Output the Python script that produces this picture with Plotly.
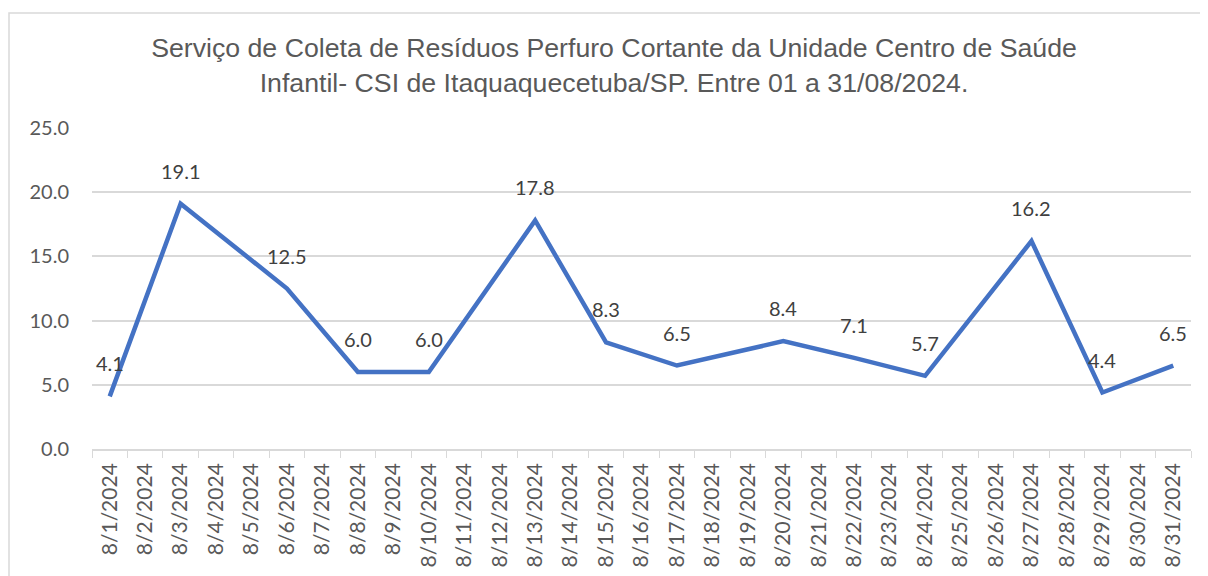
import plotly.graph_objects as go

# ---- data ----
all_dates = [f"8/{d}/2024" for d in range(1, 32)]
dates = ["8/1/2024", "8/3/2024", "8/6/2024", "8/8/2024", "8/10/2024", "8/13/2024",
         "8/15/2024", "8/17/2024", "8/20/2024", "8/22/2024", "8/24/2024", "8/27/2024",
         "8/29/2024", "8/31/2024"]
values = [4.1, 19.1, 12.5, 6.0, 6.0, 17.8, 8.3, 6.5, 8.4, 7.1, 5.7, 16.2, 4.4, 6.5]
y_ticks = [0, 5, 10, 15, 20, 25]
title_text = ("Serviço de Coleta de Resíduos Perfuro Cortante da Unidade Centro de Saúde<br>"
              "Infantil- CSI de Itaquaquecetuba/SP. Entre 01 a 31/08/2024.")

# page body has an 8px margin; compensate so positions match the page
OFF = 8
W, H = 1208 - OFF, 576 - OFF
ML, MR, MT, MB = 92 - OFF, 17, 128 - OFF, 127
PW, PH = W - ML - MR, H - MT - MB

fig = go.Figure()
fig.add_trace(go.Scatter(
    x=dates, y=values, mode="lines",
    line=dict(color="#4472C4", width=4.5),
    hoverinfo="x+y", showlegend=False,
))

for d, v in zip(dates, values):
    fig.add_annotation(x=d, y=v, text=f"{v:.1f}", showarrow=False,
                       yshift=33, font=dict(family="Lato", size=20, color="#404040"))

# outer chart border (page px: left 9, top 13)
bx0, by0 = 9 - OFF, 13 - OFF
fig.add_shape(type="rect", xref="paper", yref="paper",
              x0=(bx0 - ML) / PW, x1=(W + 10 - ML) / PW,
              y0=-(MB + 10) / PH, y1=(PH + MT - by0) / PH,
              line=dict(color="#d9d9d9", width=1.5), fillcolor="rgba(0,0,0,0)", layer="below")

fig.update_layout(
    width=W, height=H,
    margin=dict(l=ML, r=MR, t=MT, b=MB, autoexpand=False),
    paper_bgcolor="white", plot_bgcolor="white",
    title=dict(text=title_text, x=(614 - OFF - ML) / PW, xref="paper", xanchor="center",
               y=1 - (57 - OFF) / H, yanchor="middle",
               font=dict(family="Liberation Sans", size=26.7, color="#595959")),
    xaxis=dict(type="category", categoryorder="array", categoryarray=all_dates,
               range=[-0.5, len(all_dates) - 0.5], automargin=False,
               tickangle=-90, tickson="boundaries", ticks="outside", ticklen=7,
               tickcolor="#d9d9d9", showline=True, linecolor="#d9d9d9", linewidth=1.5,
               showgrid=False, ticklabelstandoff=4,
               tickfont=dict(family="Lato", size=21, color="#595959")),
    yaxis=dict(range=[0, 25], tickvals=y_ticks, tickformat=".1f", automargin=False,
               showgrid=True, gridcolor="#d9d9d9", gridwidth=1.5, zeroline=False,
               showline=False, ticklabelstandoff=22,
               tickfont=dict(family="Lato", size=20, color="#595959")),
)

fig.write_html("out.html")
